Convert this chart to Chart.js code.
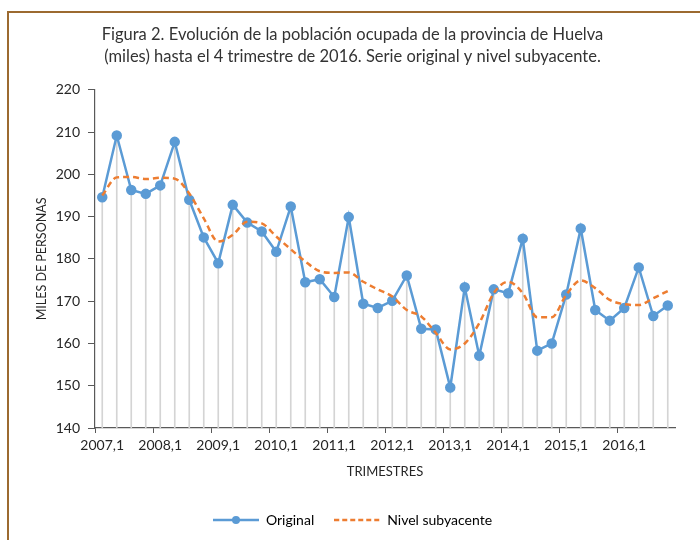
<!DOCTYPE html>
<html>
<head>
<meta charset="utf-8">
<script src="https://cdn.jsdelivr.net/npm/chart.js@4.4.0/dist/chart.umd.min.js"></script>
<style>
  html, body { margin: 0; padding: 0; background: #fff; }
  body { width: 700px; height: 540px; position: relative; overflow: hidden; }
  #marco { position: absolute; left: 7px; top: 11px; width: 720px; height: 560px;
           border-top: 2px solid #9c6a30; border-left: 2px solid #9c6a30; }
  #grafico { position: absolute; left: 0; top: 0; }
</style>
</head>
<body>
<div id="marco"></div>
<canvas id="grafico" width="700" height="540"></canvas>
<script>
// trimestres 2007,1 .. 2016,4
const trimestres = [
  '2007,1','2007,2','2007,3','2007,4','2008,1','2008,2','2008,3','2008,4',
  '2009,1','2009,2','2009,3','2009,4','2010,1','2010,2','2010,3','2010,4',
  '2011,1','2011,2','2011,3','2011,4','2012,1','2012,2','2012,3','2012,4',
  '2013,1','2013,2','2013,3','2013,4','2014,1','2014,2','2014,3','2014,4',
  '2015,1','2015,2','2015,3','2015,4','2016,1','2016,2','2016,3','2016,4'
];
// serie original (miles de personas)
const original = [
  194.6, 209.2, 196.3, 195.4, 197.4, 207.7, 194.0, 185.1, 179.0, 192.8,
  188.6, 186.5, 181.7, 192.4, 174.5, 175.2, 171.0, 189.9, 169.4, 168.4,
  170.1, 176.1, 163.5, 163.3, 149.6, 173.3, 157.1, 172.8, 171.9, 184.8,
  158.3, 160.0, 171.6, 187.2, 167.9, 165.4, 168.4, 178.0, 166.5, 169.0
];
// nivel subyacente (tendencia)
const subyacente = [
  195.0, 199.3, 199.4, 198.9, 199.2, 199.0, 195.5, 189.6, 184.1, 185.7,
  188.8, 188.4, 185.3, 182.3, 179.4, 177.1, 176.7, 176.8, 174.6, 172.8,
  171.1, 167.9, 166.4, 162.5, 158.6, 160.0, 164.8, 171.9, 174.6, 171.9,
  166.2, 166.2, 171.5, 174.9, 173.1, 170.3, 169.3, 169.1, 170.7, 172.4
];
const titulo = [
  'Figura 2. Evolución de la población ocupada de la provincia de Huelva',
  '(miles) hasta el 4 trimestre de 2016. Serie original y nivel subyacente.'
];

const azul = '#5b9bd5';
const naranja = '#ed7d31';

Chart.defaults.font.family = 'Lato, "Liberation Sans", sans-serif';
Chart.defaults.color = '#262626';

// muestra de leyenda (linea + punto)
function muestra(color, dash, punto) {
  const c = document.createElement('canvas');
  c.width = 46; c.height = 10;
  const g = c.getContext('2d');
  g.strokeStyle = color;
  g.lineWidth = 2.5;
  g.setLineDash(dash);
  g.beginPath(); g.moveTo(0, 5); g.lineTo(46, 5); g.stroke();
  if (punto) {
    g.fillStyle = color;
    g.beginPath(); g.arc(23, 5, 4, 0, 2 * Math.PI); g.fill();
  }
  return c;
}
const imgOriginal = muestra(azul, [], true);
const imgSubyacente = muestra(naranja, [5, 3], false);

const ctx = document.getElementById('grafico').getContext('2d');
new Chart(ctx, {
  type: 'bar',
  data: {
    labels: trimestres,
    datasets: [
      {
        type: 'line',
        label: 'Nivel subyacente',
        data: subyacente,
        borderColor: naranja,
        borderWidth: 2.5,
        borderDash: [6, 4],
        pointRadius: 0,
        cubicInterpolationMode: 'monotone',
        fill: false,
        order: 1
      },
      {
        type: 'line',
        label: 'Original',
        data: original,
        borderColor: azul,
        backgroundColor: azul,
        borderWidth: 2.5,
        pointRadius: 4,
        pointBackgroundColor: azul,
        pointBorderColor: azul,
        tension: 0,
        fill: false,
        order: 2
      },
      {
        // lineas de caida desde cada punto hasta el eje
        label: 'caida',
        data: original,
        backgroundColor: '#d4d4d4',
        barThickness: 1,
        order: 3
      }
    ]
  },
  options: {
    responsive: false,
    animation: false,
    layout: { padding: { left: 30, right: 25, top: 0, bottom: 3 } },
    plugins: {
      tooltip: { enabled: false },
      title: {
        display: true,
        text: titulo,
        color: '#333333',
        font: { size: 16.5, weight: 'normal', lineHeight: 1.33 },
        padding: { top: 24, bottom: 22 }
      },
      legend: {
        position: 'bottom',
        labels: {
          usePointStyle: true,
          pointStyleWidth: 46,
          padding: 20,
          color: '#404040',
          font: { size: 14 },
          generateLabels: () => [
            { text: 'Original', pointStyle: imgOriginal, fillStyle: 'transparent', strokeStyle: 'transparent', lineWidth: 0, datasetIndex: 1 },
            { text: 'Nivel subyacente', pointStyle: imgSubyacente, fillStyle: 'transparent', strokeStyle: 'transparent', lineWidth: 0, datasetIndex: 0 }
          ]
        }
      }
    },
    scales: {
      x: {
        offset: true,
        afterFit: s => { s.height = 65; },
        border: { color: '#595959', width: 1.2 },
        grid: {
          offset: true,
          drawOnChartArea: false,
          drawTicks: true,
          tickLength: 5,
          color: c => (c.index % 4 === 0 ? '#595959' : 'rgba(0,0,0,0)')
        },
        ticks: {
          autoSkip: false,
          maxRotation: 0,
          padding: 4,
          font: { size: 14 },
          callback: function (v, i) { return i % 4 === 0 ? this.getLabelForValue(v) : ''; }
        },
        title: {
          display: true,
          text: 'TRIMESTRES',
          font: { size: 13 },
          padding: { top: 0, bottom: 13 }
        }
      },
      y: {
        min: 140,
        max: 220,
        afterFit: s => { s.width = 65; },
        border: { color: '#595959', width: 1.2 },
        grid: { drawOnChartArea: false, tickLength: 7, color: '#595959' },
        ticks: { stepSize: 10, padding: 8, font: { size: 14 } },
        title: {
          display: true,
          text: 'MILES DE PERSONAS',
          font: { size: 12.5 },
          padding: { top: 4, bottom: 4 }
        }
      }
    }
  }
});
</script>
</body>
</html>
